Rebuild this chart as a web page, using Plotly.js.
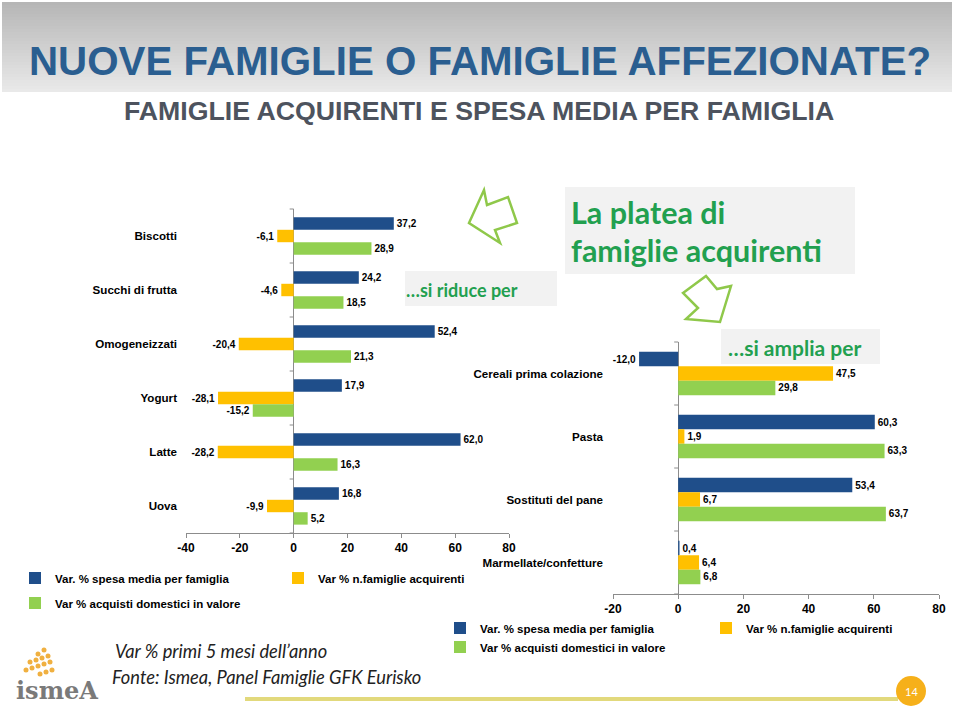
<!DOCTYPE html>
<html>
<head>
<meta charset="utf-8">
<script src="https://cdn.plot.ly/plotly-3.0.1.min.js"></script>
<style>html,body{margin:0;padding:0;background:#fff}#chart{width:960px;height:712px}</style>
</head>
<body>
<div id="chart"></div>
<script>
// ---- data ----
const seriesNames = ['Var. % spesa media per famiglia', 'Var % n.famiglie acquirenti', 'Var % acquisti domestici in valore'];
const catsL = ['Biscotti', 'Succhi di frutta', 'Omogeneizzati', 'Yogurt', 'Latte', 'Uova'];
const spesaL = [37.2, 24.2, 52.4, 17.9, 62.0, 16.8];
const famL = [-6.1, -4.6, -20.4, -28.1, -28.2, -9.9];
const acqL = [28.9, 18.5, 21.3, -15.2, 16.3, 5.2];
const catsR = ['Cereali prima colazione', 'Pasta', 'Sostituti del pane', 'Marmellate/confetture'];
const spesaR = [-12.0, 60.3, 53.4, 0.4];
const famR = [47.5, 1.9, 6.7, 6.4];
const acqR = [29.8, 63.3, 63.7, 6.8];
const xTicksL = [-40, -20, 0, 20, 40, 60, 80];
const xTicksR = [-20, 0, 20, 40, 60, 80];

// ---- style ----
const W = 960, H = 712;
const px = x => x / W;
const py = y => 1 - y / H;
const colors = ['#1f4e8a', '#ffc000', '#92d050'];
const AR = 'Arial, "Liberation Sans", sans-serif';
const CAL = 'Lato, "Open Sans", sans-serif';
const GREEN = '#22a04f';

function bar(x, y, i, xa, ya, legend) {
  return {
    type: 'bar', orientation: 'h', x: x, y: y, name: seriesNames[i],
    xaxis: xa, yaxis: ya, legend: legend, showlegend: true,
    marker: {color: colors[i]},
    texttemplate: '%{x:.1f}', textposition: 'outside', constraintext: 'none',
    cliponaxis: false,
    textfont: {family: AR, size: 10, color: '#000', weight: 'bold'},
    hoverinfo: 'skip'
  };
}

const data = [
  bar(spesaL, catsL, 0, 'x', 'y', 'legend'),
  bar(famL, catsL, 1, 'x', 'y', 'legend2'),
  bar(acqL, catsL, 2, 'x', 'y', 'legend3'),
  bar(spesaR, catsR, 0, 'x2', 'y2', 'legend4'),
  bar(famR, catsR, 1, 'x2', 'y2', 'legend5'),
  bar(acqR, catsR, 2, 'x2', 'y2', 'legend6')
];

const tickFont = {family: AR, size: 12, color: '#000', weight: 'bold'};
const catFont = {family: AR, size: 11.6, color: '#000', weight: 'bold'};
const axisGrey = '#8c8c8c';

function legendCfg(x, y) {
  return {
    x: px(x), y: py(y), xanchor: 'left', yanchor: 'middle', orientation: 'h',
    bgcolor: 'rgba(0,0,0,0)',
    font: {family: AR, size: 11.5, color: '#000', weight: 'bold'}
  };
}

// banner gradient bands
const shapes = [];
const bandN = 30, bTop = 2, bBot = 92;
for (let i = 0; i < bandN; i++) {
  const t = i / (bandN - 1);
  const c = Math.round(182 + (233 - 182) * t);
  shapes.push({type: 'rect', xref: 'paper', yref: 'paper', layer: 'below',
    x0: px(2), x1: px(952), y0: py(bTop + (bBot - bTop) * i / bandN), y1: py(bTop + (bBot - bTop) * (i + 1) / bandN),
    fillcolor: `rgb(${c},${c},${c})`, line: {width: 0}});
}
function box(x0, y0, x1, y1) {
  shapes.push({type: 'rect', xref: 'paper', yref: 'paper', x0: px(x0), x1: px(x1), y0: py(y0), y1: py(y1),
    fillcolor: '#f2f2f2', line: {width: 0}, layer: 'above'});
}
box(565, 187, 855, 274);
box(405, 271, 557, 306);
box(721, 329, 880, 364);
function poly(pts, color, width) {
  const d = pts.map((p, i) => (i ? 'L' : 'M') + px(p[0]).toFixed(5) + ',' + py(p[1]).toFixed(5)).join(' ') + ' Z';
  shapes.push({type: 'path', xref: 'paper', yref: 'paper', path: d, line: {color: color, width: width}, fillcolor: 'rgba(0,0,0,0)'});
}
// outlined arrows
poly([[469, 223], [484, 190], [487, 205], [508, 197], [517, 223], [495, 230], [500, 243]], '#8fc84a', 2.5);
poly([[683, 293], [706, 276], [717, 289], [731, 286], [720, 322], [686, 319], [698, 308]], '#8fc84a', 2.5);
// category tick marks on the zero lines
function zeroTicks(xa, ya, n) {
  for (let k = 0; k <= n; k++) {
    shapes.push({type: 'line', xref: xa, yref: ya + ' domain', x0: -4, x1: 0, y0: k / n, y1: k / n,
      xsizemode: 'pixel', xanchor: 0, line: {color: axisGrey, width: 1}});
  }
}
zeroTicks('x', 'y', catsL.length);
zeroTicks('x2', 'y2', catsR.length);
// footer line + page circle
shapes.push({type: 'line', xref: 'paper', yref: 'paper', x0: px(245), x1: px(898), y0: py(699), y1: py(699), line: {color: '#e2d97c', width: 4}});
shapes.push({type: 'circle', xref: 'paper', yref: 'paper', x0: px(896), x1: px(926), y0: py(676), y1: py(706), fillcolor: '#f6b01a', line: {width: 0}});
// logo dots
const dots = [[38, 654], [44, 650], [30, 662], [36, 660], [42, 658], [48, 656], [26, 670], [32, 668], [38, 666], [44, 664], [50, 662], [40, 674], [46, 672], [52, 670]];
dots.forEach(d => shapes.push({type: 'circle', xref: 'paper', yref: 'paper', x0: px(d[0] - 2.5), x1: px(d[0] + 2.5), y0: py(d[1] - 2.5), y1: py(d[1] + 2.5), fillcolor: '#f0b040', line: {width: 0}}));

function ann(text, x, y, font, xanchor, yanchor) {
  return {text: text, x: px(x), y: py(y), xref: 'paper', yref: 'paper', showarrow: false,
    xanchor: xanchor || 'left', yanchor: yanchor || 'middle', font: font};
}
const annotations = [
  ann('NUOVE FAMIGLIE O FAMIGLIE AFFEZIONATE?', 27, 61, {family: AR, size: 40.3, color: '#2a5e90', weight: 'bold'}),
  ann('FAMIGLIE ACQUIRENTI E SPESA MEDIA PER FAMIGLIA', 122, 111, {family: AR, size: 26.7, color: '#4d535e', weight: 'bold'}),
  ann('La platea di', 569, 212, {family: CAL, size: 30.5, color: GREEN, weight: 'bold'}),
  ann('famiglie acquirenti', 569, 250, {family: CAL, size: 30.5, color: GREEN, weight: 'bold'}),
  ann('…si riduce per', 404, 290, {family: CAL, size: 18, color: GREEN, weight: 'bold'}),
  ann('…si amplia per', 726, 347, {family: CAL, size: 21, color: GREEN, weight: 'bold'}),
  ann('Var % primi 5 mesi dell’anno', 113, 651, {family: CAL, size: 18.3, color: '#222', style: 'italic'}),
  ann('Fonte: Ismea, Panel Famiglie GFK Eurisko', 110, 677, {family: CAL, size: 18.3, color: '#222', style: 'italic'}),
  ann('14', 911, 691, {family: CAL, size: 11, color: '#fff'}, 'center', 'middle'),
  ann('ismeA', 14, 690, {family: '"DejaVu Serif", serif', size: 24, color: '#7a7a7a', weight: 'bold'})
];

const layout = {
  width: W, height: H,
  margin: {l: 0, r: 0, t: 0, b: 0, pad: 0},
  paper_bgcolor: '#fff', plot_bgcolor: 'rgba(0,0,0,0)',
  separators: ',.',
  barmode: 'group', bargap: 0.31, bargroupgap: 0,
  showlegend: true,
  xaxis: {domain: [px(186), px(509)], range: [-40, 80], anchor: 'y', tickvals: xTicksL, ticktext: xTicksL.map(String), showgrid: false,
    showline: true, linecolor: axisGrey, ticks: 'outside', ticklen: 4, tickcolor: axisGrey,
    zeroline: true, zerolinecolor: axisGrey, zerolinewidth: 1, tickfont: tickFont, fixedrange: true},
  yaxis: {domain: [py(533), py(209)], type: 'category', autorange: 'reversed', anchor: 'x', showgrid: false,
    showline: false, ticks: '', tickfont: catFont, ticklabelstandoff: 8, fixedrange: true},
  xaxis2: {domain: [px(613), px(939)], range: [-20, 80], anchor: 'y2', tickvals: xTicksR, ticktext: xTicksR.map(String), showgrid: false,
    showline: true, linecolor: axisGrey, ticks: 'outside', ticklen: 4, tickcolor: axisGrey,
    zeroline: true, zerolinecolor: axisGrey, zerolinewidth: 1, tickfont: tickFont, fixedrange: true},
  yaxis2: {domain: [py(594), py(342)], type: 'category', autorange: 'reversed', anchor: 'x2', showgrid: false,
    showline: false, ticks: '', tickfont: catFont, ticklabelstandoff: 9, fixedrange: true},
  legend: legendCfg(15, 578),
  legend2: legendCfg(278, 578),
  legend3: legendCfg(15, 603),
  legend4: legendCfg(440, 628),
  legend5: legendCfg(706, 628),
  legend6: legendCfg(440, 647),
  shapes: shapes,
  annotations: annotations
};

Plotly.newPlot('chart', data, layout, {displayModeBar: false, staticPlot: true});
</script>
</body>
</html>
